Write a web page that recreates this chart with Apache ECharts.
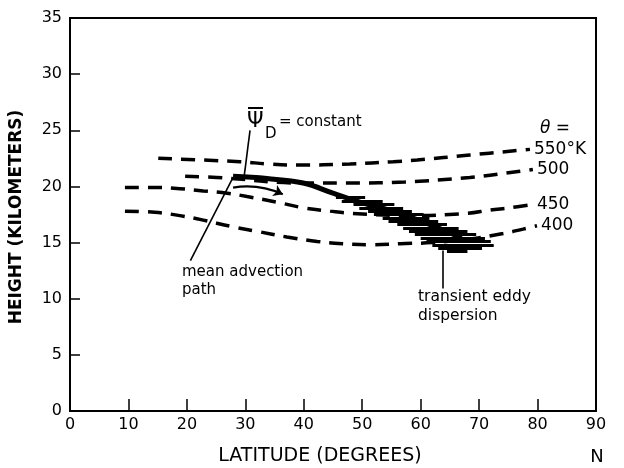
<!DOCTYPE html>
<html>
<head>
<meta charset="utf-8">
<script src="https://cdn.jsdelivr.net/npm/echarts@6/dist/echarts.min.js"></script>
<style>
  html, body { margin: 0; padding: 0; background: #fff; }
  #chart { width: 624px; height: 468px; }
</style>
</head>
<body>
<div id="chart"></div>
<script>
  // isentropes (latitude, height km)
  const lat550 = [15.1, 29.1, 33.9, 38.8, 47.9, 55.3, 59.4, 68.4, 78.7];
  const h550 = [22.5, 22.2, 22.0, 21.9, 22.0, 22.2, 22.35, 22.8, 23.3];
  const lat500 = [19.7, 25.1, 39.9, 48.4, 57.3, 68.4, 77.0, 79.2];
  const h500 = [20.9, 20.8, 20.3, 20.3, 20.4, 20.8, 21.35, 21.5];
  const lat450 = [9.4, 14.9, 18.8, 22.8, 26.9, 30.3, 35.4, 39.9, 44.5, 48.4, 58.0, 67.9, 71.9, 75.3, 79.2];
  const h450 = [19.9, 19.9, 19.8, 19.6, 19.4, 19.1, 18.6, 18.1, 17.8, 17.6, 17.4, 17.6, 17.9, 18.1, 18.4];
  const lat400 = [9.4, 14.5, 18.8, 22.8, 27.9, 32.0, 37.1, 42.3, 46.7, 51.3, 56.5, 62.0, 68.0, 74.1, 77.5, 79.9];
  const h400 = [17.8, 17.7, 17.4, 17.0, 16.4, 16.0, 15.5, 15.1, 14.9, 14.8, 14.9, 15.0, 15.3, 15.8, 16.2, 16.5];
  const isoNames = ['550°K', '500', '450', '400'];

  // mean advection path
  const pathLat = [27.9, 33.7, 39.9, 45.0, 49.6, 55.9, 62.1, 67.0];
  const pathH = [20.9, 20.7, 20.3, 19.4, 18.6, 17.7, 16.5, 15.4];

  // transient eddy dispersion hatching: [lat start, lat end, height]
  const hatches = [
    [45.5, 50.5, 19.0], [46.5, 53.5, 18.7], [48.5, 55.5, 18.4], [49.5, 57.0, 18.1],
    [51.0, 58.5, 17.8], [52.0, 60.5, 17.5], [53.5, 61.5, 17.2], [54.5, 63.0, 16.9],
    [56.0, 64.5, 16.6], [57.0, 66.5, 16.3], [58.0, 68.0, 16.0], [59.0, 69.5, 15.7],
    [60.0, 71.0, 15.4], [61.0, 72.0, 15.1], [62.0, 72.5, 14.8], [63.0, 70.5, 14.5],
    [64.5, 68.0, 14.25]
  ];

  // leader lines and the flow arrow: [[lat, h], [lat, h]]
  const leaders = [
    [[27.9, 20.8], [20.6, 13.4]],
    [[29.8, 20.9], [30.8, 25.0]],
    [[63.8, 14.3], [63.8, 10.9]]
  ];
  const arrow = [[27.9, 19.9], [36.4, 19.3]];

  const zip = (a, b) => a.map((v, i) => [v, b[i]]);
  const isoData = [zip(lat550, h550), zip(lat500, h500), zip(lat450, h450), zip(lat400, h400)];

  const chart = echarts.init(document.getElementById('chart'));
  const font = 'DejaVu Sans';

  const series = isoData.map((d, i) => ({
    type: 'line',
    data: d,
    smooth: 0.4,
    showSymbol: false,
    silent: true,
    lineStyle: { color: '#000', width: 3.5, type: [14, 9] },
    endLabel: {
      show: true,
      formatter: isoNames[i],
      color: '#000',
      fontFamily: font,
      fontSize: 17,
      distance: 4
    }
  }));

  series.push({
    type: 'line',
    data: zip(pathLat, pathH),
    smooth: 0.4,
    showSymbol: false,
    lineStyle: { color: '#000', width: 5 }
  });

  series.push({
    type: 'lines',
    coordinateSystem: 'cartesian2d',
    data: hatches.map(h => ({ coords: [[h[0], h[2]], [h[1], h[2]]] })),
    lineStyle: { color: '#000', width: 3, opacity: 1 }
  });

  series.push({
    type: 'lines',
    coordinateSystem: 'cartesian2d',
    data: leaders.map(c => ({ coords: c })),
    lineStyle: { color: '#000', width: 1.6, opacity: 1 }
  });

  series.push({
    type: 'lines',
    coordinateSystem: 'cartesian2d',
    symbol: ['none', 'arrow'],
    symbolSize: 9,
    data: [{ coords: arrow }],
    lineStyle: { color: '#000', width: 2.2, opacity: 1, curveness: 0.15 }
  });

  const option = {
    animation: false,
    backgroundColor: '#fff',
    grid: {
      left: 70, right: 28, top: 18, bottom: 57,
      show: true, borderColor: '#000', borderWidth: 2
    },
    xAxis: {
      type: 'value', min: 0, max: 90, interval: 10,
      axisLine: { lineStyle: { color: '#000', width: 2 } },
      axisTick: { inside: true, length: 12, lineStyle: { color: '#000', width: 1.5 } },
      axisLabel: { color: '#000', fontFamily: font, fontSize: 16, margin: 6 },
      splitLine: { show: false }
    },
    yAxis: {
      type: 'value', min: 0, max: 35, interval: 5,
      axisLine: { lineStyle: { color: '#000', width: 2 } },
      axisTick: { inside: true, length: 10, lineStyle: { color: '#000', width: 1.5 } },
      axisLabel: { color: '#000', fontFamily: font, fontSize: 16, margin: 8 },
      splitLine: { show: false }
    },
    graphic: [
      { type: 'text', x: 17, y: 217, rotation: Math.PI / 2, style: {
          text: 'HEIGHT (KILOMETERS)', fill: '#000', font: 'bold 17px ' + font,
          textAlign: 'center', textVerticalAlign: 'middle' } },
      { type: 'text', x: 320, y: 456, style: {
          text: 'LATITUDE (DEGREES)', fill: '#000', font: '19px ' + font,
          textAlign: 'center', textVerticalAlign: 'middle' } },
      { type: 'text', x: 597, y: 457, style: {
          text: 'N', fill: '#000', font: '18px ' + font,
          textAlign: 'center', textVerticalAlign: 'middle' } },
      { type: 'text', x: 540, y: 129, style: {
          text: 'θ =', fill: '#000', font: 'italic 17px ' + font,
          textVerticalAlign: 'middle' } },
      { type: 'text', x: 247, y: 122, style: {
          text: 'Ψ', fill: '#000', font: '21px ' + font, textVerticalAlign: 'middle' } },
      { type: 'line', shape: { x1: 248, y1: 108, x2: 263, y2: 108 },
        style: { stroke: '#000', lineWidth: 2 } },
      { type: 'text', x: 265, y: 134, style: {
          text: 'D', fill: '#000', font: '15px ' + font, textVerticalAlign: 'middle' } },
      { type: 'text', x: 279, y: 122, style: {
          text: '= constant', fill: '#000', font: '15px ' + font, textVerticalAlign: 'middle' } },
      { type: 'text', x: 182, y: 272, style: {
          text: 'mean advection', fill: '#000', font: '15px ' + font, textVerticalAlign: 'middle' } },
      { type: 'text', x: 182, y: 290, style: {
          text: 'path', fill: '#000', font: '15px ' + font, textVerticalAlign: 'middle' } },
      { type: 'text', x: 418, y: 297, style: {
          text: 'transient eddy', fill: '#000', font: '15.5px ' + font, textVerticalAlign: 'middle' } },
      { type: 'text', x: 418, y: 316, style: {
          text: 'dispersion', fill: '#000', font: '15.5px ' + font, textVerticalAlign: 'middle' } }
    ],
    series: series
  };

  chart.setOption(option);
</script>
</body>
</html>
